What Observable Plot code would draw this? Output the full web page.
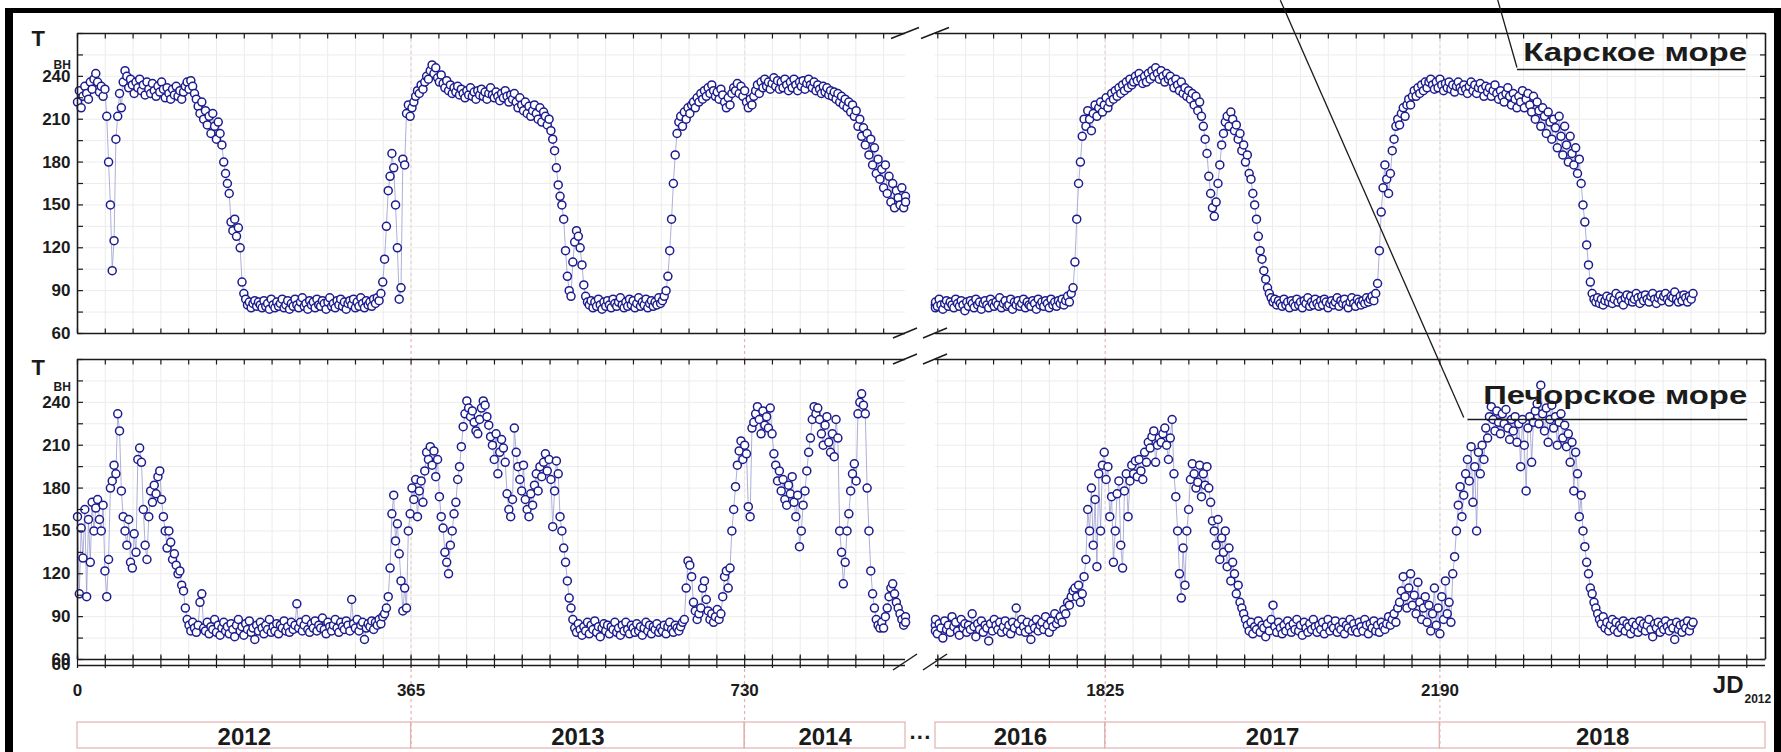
<!DOCTYPE html>
<html><head><meta charset="utf-8">
<script src="https://cdn.jsdelivr.net/npm/d3@7"></script>
<script src="https://cdn.jsdelivr.net/npm/@observablehq/plot@0.6"></script>
<style>
html,body{margin:0;padding:0;background:#fff;}
#chart{position:relative;width:1781px;height:752px;overflow:hidden;background:#fff;}
#chart svg{position:absolute;left:0;top:0;}
#frame{position:absolute;left:5px;top:8px;right:0;bottom:-20px;border-top:5px solid #000;border-left:8px solid #000;border-right:7px solid #000;}
</style></head><body><div id="chart"><div id="frame"></div></div>
<script>
// ---------------- data (brightness temperature T_BH, K), one value every STEP days ----------------
const STEP = 2;
const karaLeftStart = 0, karaRightStart = 1636;
const pechoraLeftStart = 0, pechoraRightStart = 1636;

const karaLeft = [
 222,230,218,226,233,228,224,236,231,238,
 242,236,229,233,226,231,212,180,150,104,
 125,196,212,228,218,236,244,240,232,238,
 234,228,236,232,238,230,234,227,236,231,
 228,235,230,226,233,229,236,231,225,232,
 228,224,231,227,233,226,230,224,229,233,
 236,231,237,233,228,224,219,214,222,210,
 216,206,212,200,214,205,196,208,200,192,
 180,172,165,158,138,132,140,128,134,120,
 96,88,84,80,82,78,81,83,79,82,
 80,78,83,79,81,77,84,80,78,82,
 79,81,84,78,80,83,77,81,79,84,
 80,78,82,85,79,81,77,83,80,82,
 78,84,80,79,83,81,77,82,85,79,
 81,78,83,80,84,79,82,77,81,83,
 80,84,78,82,79,85,81,78,83,80,
 82,79,84,81,85,83,88,96,112,135,
 160,170,186,176,150,120,84,92,182,178,
 214,220,212,218,222,226,230,228,234,231,
 236,240,238,244,248,242,246,239,236,241,
 235,232,237,230,234,228,232,229,233,227,
 231,228,225,230,227,232,226,229,224,230,
 227,231,226,229,224,228,232,227,225,229,
 226,223,228,225,230,226,222,227,224,228,
 222,218,225,220,216,222,214,219,212,216,
 220,214,210,218,208,215,212,206,210,202,
 196,188,176,164,156,150,140,118,100,90,
 86,110,124,132,128,120,108,94,86,82,
 80,83,78,82,79,84,80,77,82,79,
 83,80,78,84,81,79,82,85,80,78,
 82,79,84,80,83,78,81,85,79,82,
 80,84,78,81,83,79,82,80,85,81,
 83,86,90,100,118,140,165,185,200,208,
 212,205,215,210,218,214,220,222,218,225,
 222,228,224,230,226,232,228,234,230,226,
 229,224,231,227,222,218,225,220,228,232,
 230,235,228,233,226,230,222,218,224,220,
 226,230,234,228,236,232,238,233,236,231,
 235,239,233,237,231,236,232,238,234,230,
 236,232,238,234,230,236,233,237,231,235,
 238,234,232,236,230,234,231,228,233,229,
 232,227,230,226,229,224,228,222,226,220,
 224,218,222,215,220,212,216,205,210,198,
 204,192,200,185,196,178,190,172,182,168,
 175,162,178,158,170,152,165,148,160,155,
 150,162,148,156,152
];
const karaRight = [
 80,78,82,79,84,80,77,81,83,79,
 82,80,78,84,81,79,83,80,76,82,
 79,83,81,78,84,80,82,77,81,83,
 80,78,84,81,79,82,80,85,78,81,
 83,79,80,84,77,82,80,83,79,81,
 84,78,82,80,79,83,81,77,84,80,
 82,79,83,81,78,84,80,82,79,83,
 81,84,80,83,86,82,88,92,110,140,
 165,180,198,210,205,216,210,202,214,220,
 212,218,222,215,220,225,218,222,228,224,
 230,226,232,228,234,230,236,232,238,234,
 236,240,237,242,238,235,240,236,242,238,
 244,240,246,242,238,244,240,236,242,238,
 240,236,232,238,234,230,236,228,232,226,
 230,224,228,220,226,216,222,212,205,196,
 186,170,158,148,142,152,165,178,192,200,
 208,212,205,215,210,202,206,196,200,188,
 192,180,185,172,168,158,150,140,128,118,
 112,104,98,92,88,85,82,84,80,83,
 81,79,84,80,82,78,83,81,79,84,
 80,82,78,83,81,85,79,82,80,84,
 81,79,83,80,84,82,78,81,83,80,
 82,85,79,83,81,84,80,78,82,85,
 81,79,84,82,80,83,81,85,82,84,
 86,83,88,95,118,145,162,178,168,158,
 172,188,196,205,210,206,214,218,212,220,
 224,220,226,230,226,232,228,234,230,236,
 232,236,238,234,231,236,232,238,234,230,
 235,232,236,231,234,229,233,236,232,230,
 234,231,228,233,236,230,234,228,232,235,
 231,226,233,229,232,226,230,234,228,224,
 230,226,222,228,232,226,220,228,224,218,
 226,222,230,218,224,228,220,215,226,210,
 222,216,205,218,212,200,215,208,196,210,
 204,190,212,198,185,205,192,180,198,186,
 178,190,172,182,165,150,138,122,108,96,
 88,84,82,85,81,84,80,83,86,82,
 85,81,84,88,82,86,83,80,85,87,
 83,86,82,84,88,85,81,86,83,87,
 84,82,86,88,84,81,85,87,83,86,
 88,84,82,86,85,89,84,82,86,83,
 87,85,82,86,84,88
];
const pechoraLeft = [
 160,106,152,131,165,104,158,128,170,150,
 166,172,158,150,168,122,104,130,180,185,
 196,190,232,220,178,160,150,140,158,128,
 124,148,135,200,208,198,165,140,130,160,
 178,170,182,176,188,192,172,160,150,138,
 150,142,130,134,126,120,122,112,108,96,
 88,84,80,86,82,79,84,100,106,82,
 80,86,78,83,81,88,79,84,77,82,
 86,80,83,78,85,81,76,84,88,80,
 83,77,85,81,87,79,82,74,84,80,
 86,82,78,84,81,88,79,83,80,85,
 78,84,82,87,80,83,79,86,81,84,
 99,82,86,80,84,88,81,79,85,82,
 87,80,84,82,89,81,78,86,83,80,
 84,88,82,79,86,83,81,87,84,80,
 102,85,82,88,80,84,86,74,82,85,
 83,87,81,86,84,88,85,90,92,96,
 104,124,162,175,143,155,134,115,94,110,
 96,150,162,180,172,186,160,178,185,170,
 192,205,200,209,196,206,188,200,174,160,
 152,135,128,120,140,150,162,170,186,195,
 209,223,232,241,236,230,234,226,220,218,
 228,236,241,238,230,224,216,210,200,218,
 190,205,214,208,198,176,165,160,172,222,
 205,195,186,178,196,172,165,160,176,168,
 182,190,178,195,188,198,204,192,200,186,
 153,178,199,190,160,150,138,128,115,103,
 96,88,82,79,85,81,77,83,80,86,
 78,84,81,87,79,83,76,82,85,80,
 84,78,83,81,86,79,82,77,84,80,
 86,81,78,84,82,79,85,80,83,77,
 82,86,80,84,78,83,81,85,79,82,
 80,84,78,83,86,81,79,84,82,80,
 83,86,88,110,129,126,118,100,94,88,
 92,96,110,115,102,94,88,92,86,90,
 95,88,92,104,118,122,110,124,150,165,
 181,196,206,213,200,210,204,167,160,222,
 226,232,237,228,218,234,224,230,222,236,
 218,204,196,185,192,178,186,172,168,182,
 176,188,170,160,175,139,150,168,178,192,
 205,215,228,237,232,236,228,218,210,224,
 230,212,205,218,202,228,215,150,135,113,
 128,150,162,178,190,197,185,232,240,246,
 238,232,180,150,122,106,96,88,84,82,
 86,82,90,96,104,110,113,106,100,96,
 92,88,84,90,86
];
const pechoraRight = [
 84,80,88,78,85,82,75,87,81,84,
 79,90,83,86,80,77,88,82,85,79,
 84,81,92,83,76,85,81,87,79,84,
 82,73,85,80,88,84,81,86,79,83,
 87,80,84,78,86,82,96,85,80,88,
 83,79,86,81,74,85,82,88,80,84,
 86,81,90,84,79,87,83,92,85,88,
 90,86,95,92,100,98,104,108,110,104,
 112,100,106,118,130,165,150,180,140,172,
 125,190,150,196,205,186,195,160,174,128,
 150,176,185,140,124,178,190,160,185,196,
 190,199,188,200,192,186,205,198,212,208,
 216,220,198,210,215,212,218,222,210,200,
 215,228,190,174,150,120,103,138,112,150,
 165,186,197,190,180,184,196,174,190,182,
 195,180,170,157,150,140,158,130,145,135,
 150,125,138,115,128,120,106,112,100,96,
 92,88,84,80,86,78,83,81,87,79,
 84,82,76,85,80,88,98,83,79,86,
 82,78,84,80,87,83,79,85,81,88,
 80,84,77,86,82,79,85,81,88,83,
 79,84,81,86,78,83,88,80,84,82,
 87,79,83,81,86,78,84,82,88,80,
 85,81,79,86,83,80,88,84,78,85,
 82,87,80,84,79,86,83,81,85,90,
 84,88,92,86,96,100,108,118,104,96,
 110,120,98,105,92,114,100,88,96,104,
 86,98,80,92,110,84,96,78,104,88,
 115,92,100,86,120,132,150,168,181,160,
 175,190,200,185,209,170,195,150,205,190,
 210,200,222,215,230,237,228,220,234,226,
 218,232,225,235,222,214,228,220,230,212,
 225,195,228,210,178,222,230,198,226,234,
 239,225,252,232,220,236,212,228,238,222,
 230,210,226,232,215,224,209,218,198,212,
 178,205,190,160,175,150,139,128,120,110,
 106,100,96,92,88,85,90,82,86,80,
 84,88,81,86,79,84,82,87,80,85,
 83,78,86,81,84,79,87,82,85,80,
 84,88,81,76,85,82,86,79,84,81,
 87,83,80,85,82,74,86,81,84,79,
 85,82,87,80,84,86
];

const yearMarks = [365, 730, 1825, 2190];
const xTickLabels = [0, 365, 730, 1825, 2190];
const yTickLabels = [60, 90, 120, 150, 180, 210, 240];
const years = ["2012", "2013", "2014", "2016", "2017", "2018"];
const yearStart = [0, 365, 730, 1640, 1825, 2190];
const yearEnd = [365, 730, 906, 1825, 2190, 2545];
const seaNames = ["Карское море", "Печорское море"];

(function () {
const FONT = '"Liberation Sans", Arial, Helvetica, sans-serif';
const INK = "#1b1b1b";
const segments = [[0, 906], [1640, 2545]];
const X = {type: "linear", domain: [0, 906, 1640, 2545], range: [77, 905, 935, 1765]};
const monthTicks = [...d3.range(0, 30).map(k => k * 365 / 12), ...d3.range(-6, 24).map(k => 1825 + k * 365 / 12)];
const yMinor = d3.range(60, 271, 15);

function series(ls, left, rs, right) {
  return [
    ...left.map((t, i) => ({day: ls + i * STEP, t, seg: "L"})),
    ...right.map((t, i) => ({day: rs + i * STEP, t, seg: "R"}))
  ];
}
const kara = series(karaLeftStart, karaLeft, karaRightStart, karaRight);
const pechora = series(pechoraLeftStart, pechoraLeft, pechoraRightStart, pechoraRight);

function panel(data, yRange, opts) {
  const frameRows = segments.flatMap(([a, b]) => [{a, b, v: 60}, {a, b, v: 270}]);
  const gridRows = segments.flatMap(([a, b]) => yMinor.slice(1, -1).map(v => ({a, b, v})));
  const tk = {stroke: INK, strokeWidth: 1.2};
  return Plot.plot({
    width: 1781, height: 752,
    x: {...X, axis: null},
    y: {domain: [60, 270], range: yRange, axis: null},
    style: {background: "transparent", overflow: "visible", fontFamily: FONT},
    marks: [
      Plot.ruleX(monthTicks, {y1: 60, y2: 270, stroke: "#ececec", strokeWidth: 1}),
      Plot.ruleY(gridRows, {y: "v", x1: "a", x2: "b", stroke: "#ececec", strokeWidth: 1}),
      Plot.line(data, {x: "day", y: "t", z: "seg", stroke: "#9b9bcf", strokeWidth: 0.8}),
      Plot.dot(data, {x: "day", y: "t", r: 4, stroke: "#1c1c8e", fill: "white", strokeWidth: 1.5}),
      Plot.ruleY(frameRows, {y: "v", x1: "a", x2: "b", stroke: INK, strokeWidth: 1.6}),
      Plot.ruleX([0, 2545], {y1: 60, y2: 270, stroke: INK, strokeWidth: 1.6}),
      Plot.link(monthTicks, {x1: d => d, x2: d => d, y1: 270, y2: 266.5, ...tk}),
      Plot.link(monthTicks, {x1: d => d, x2: d => d, y1: 60, y2: 63.5, ...tk}),
      Plot.link(yMinor, {x1: 0, x2: 6, y1: d => d, y2: d => d, ...tk}),
      Plot.link(yMinor, {x1: 2545, x2: 2539, y1: d => d, y2: d => d, ...tk}),
      Plot.text(yTickLabels, {x: 0, y: d => d, text: d => String(d), dx: -7, textAnchor: "end", fontSize: 17, fontWeight: "bold", fill: INK}),
      Plot.text(["T"], {x: 0, y: opts.tY, dx: -46, textAnchor: "start", lineAnchor: "bottom", fontSize: 22, fontWeight: "bold", fill: INK}),
      Plot.text(["BH"], {x: 0, y: opts.bhY, dx: -24, textAnchor: "start", lineAnchor: "bottom", fontSize: 12, fontWeight: "bold", fill: INK}),
      Plot.text([opts.name], {x: opts.nameX, y: opts.nameY, textAnchor: "end", lineAnchor: "bottom", fontSize: 25, fontWeight: "bold", fill: INK}),
      Plot.link([0], {x1: opts.under[0], x2: opts.under[1], y1: opts.under[2], y2: opts.under[2], stroke: INK, strokeWidth: 1.6}),
      Plot.link([0], {x1: opts.leader[0], y1: opts.leader[1], x2: opts.leader[2], y2: opts.leader[3], stroke: INK, strokeWidth: 1.3})
    ]
  });
}

const pagePlot = Plot.plot({
  width: 1781, height: 752,
  x: {...X, axis: null},
  y: {type: "linear", domain: [0, 752], range: [0, 752], axis: null},
  style: {background: "transparent", overflow: "visible", fontFamily: FONT},
  marks: [
    Plot.ruleX(yearMarks, {y1: 33, y2: 748, stroke: "#e3a3a3", strokeWidth: 1, strokeDasharray: "3,3"}),
    Plot.ruleY(segments.map(([a, b]) => ({a, b})), {y: 665, x1: "a", x2: "b", stroke: INK, strokeWidth: 1.6}),
    Plot.ruleX(monthTicks, {y1: 656, y2: 668, stroke: INK, strokeWidth: 1.2}),
    Plot.text(xTickLabels, {x: d => d, y: 695, text: d => String(d), lineAnchor: "bottom", fontSize: 17, fontWeight: "bold", fill: INK}),
    Plot.text(["60"], {x: 0, y: 664, dx: -7, textAnchor: "end", fontSize: 17, fontWeight: "bold", fill: INK}),
    Plot.text(["JD"], {x: 2545, y: 692, dx: -22, textAnchor: "end", lineAnchor: "bottom", fontSize: 24, fontWeight: "bold", fill: INK}),
    Plot.text(["2012"], {x: 2545, y: 702, dx: -21, textAnchor: "start", lineAnchor: "bottom", fontSize: 12, fontWeight: "bold", fill: INK}),
    Plot.rect(years.map((y, i) => ({y, a: yearStart[i], b: yearEnd[i]})), {x1: "a", x2: "b", y1: 722, y2: 748, stroke: "#e4b0b0", fill: "none", strokeWidth: 1.2}),
    Plot.text(years.map((y, i) => ({y, m: (yearStart[i] + yearEnd[i]) / 2})), {x: "m", y: 744, text: "y", lineAnchor: "bottom", fontSize: 24, fontWeight: "bold", fill: INK}),
    Plot.text(["\u00B7\u00B7\u00B7"], {x: 906, dx: 15, y: 737, fontSize: 22, fontWeight: "bold", fill: INK})
  ]
});

const topPlot = panel(kara, [333, 33], {
  tY: 261, bhY: 245.5,
  name: seaNames[0], nameX: 2525, nameY: 251,
  under: [2274, 2523, 244.8],
  leader: [2274, 246.2, 2253, 293.5]
});
const bottomPlot = panel(pechora, [659, 359], {
  tY: 259.5, bhY: 248,
  name: seaNames[1], nameX: 2525, nameY: 239.2,
  under: [2220, 2525, 228],
  leader: [2216, 229.4, 2016, 521.5]
});

const chart = document.getElementById("chart");
chart.appendChild(pagePlot);
chart.appendChild(topPlot);
chart.appendChild(bottomPlot);

const xs = d3.scaleLinear().domain(X.domain).range(X.range);
const g = d3.select(pagePlot).append("g").attr("stroke", INK).attr("stroke-width", 1.5);
const gapL = xs(906), gapR = xs(1640);
[[33, 14, 5.5], [333, 12, 5], [359, 12, 5], [662, 12, 8]].forEach(([y, hx, hy]) => {
  [gapL, gapR].forEach(cx => {
    g.append("line").attr("x1", cx - hx).attr("y1", y + hy).attr("x2", cx + hx).attr("y2", y - hy);
  });
});

d3.selectAll("#chart text").filter(function () { return this.textContent === seaNames[0]; })
  .attr("textLength", 224).attr("lengthAdjust", "spacingAndGlyphs");
d3.selectAll("#chart text").filter(function () { return this.textContent === seaNames[1]; })
  .attr("textLength", 264).attr("lengthAdjust", "spacingAndGlyphs");
})();
</script></body></html>
